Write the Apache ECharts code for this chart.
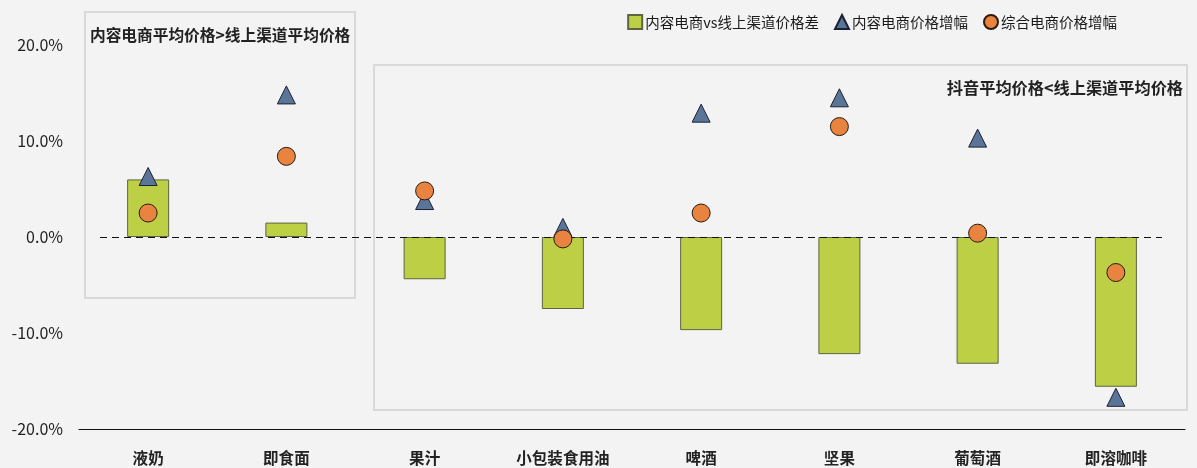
<!DOCTYPE html>
<html><head><meta charset="utf-8">
<script src="https://cdn.jsdelivr.net/npm/echarts@6/dist/echarts.min.js"></script>
<style>html,body{margin:0;padding:0;background:#f3f3f3}#c{width:1197px;height:468px}</style>
</head><body><div id="c"></div>
<script>
const categories = ['液奶','即食面','果汁','小包装食用油','啤酒','坚果','葡萄酒','即溶咖啡'];
const priceGap = [6.0, 1.5, -4.4, -7.5, -9.7, -12.2, -13.2, -15.6];
const contentGrowth = [6.3, 14.8, 3.8, 1.0, 12.9, 14.5, 10.3, -16.7];
const overallGrowth = [2.5, 8.4, 4.8, -0.2, 2.5, 11.5, 0.4, -3.7];
const seriesNames = ['内容电商vs线上渠道价格差','内容电商价格增幅','综合电商价格增幅'];
const noteLeft = '内容电商平均价格>线上渠道平均价格';
const noteRight = '抖音平均价格<线上渠道平均价格';

const font = '"Noto Sans CJK SC", "Noto Sans", sans-serif';
const chart = echarts.init(document.getElementById('c'));
const option = {
  backgroundColor: '#f3f3f3',
  animation: false,
  textStyle: {fontFamily: font},
  grid: {left: 79, right: 12, top: 45, bottom: 39},
  legend: {
    top: 9, right: 75, itemWidth: 14, itemHeight: 14, itemGap: 15,
    textStyle: {fontSize: 14.5, color: '#1a1a1a', fontFamily: font, padding: [0, 0, 0, -2]},
    data: [
      {name: seriesNames[0], icon: 'rect'},
      {name: seriesNames[1], icon: 'triangle'},
      {name: seriesNames[2], icon: 'circle'}
    ]
  },
  xAxis: {
    type: 'category', data: categories,
    axisLine: {onZero: false, lineStyle: {color: '#111', width: 1.2}},
    axisTick: {show: false},
    axisLabel: {fontSize: 15.5, fontWeight: 'bold', color: '#222', margin: 21, fontFamily: font}
  },
  yAxis: {
    type: 'value', min: -20, max: 20, interval: 10,
    axisLine: {show: false}, axisTick: {show: false}, splitLine: {show: false},
    axisLabel: {fontSize: 16, color: '#222', margin: 16, fontFamily: font,
      formatter: v => v.toFixed(1) + '%'}
  },
  series: [
    {name: seriesNames[0], type: 'bar', data: priceGap, barWidth: 42, z: 2,
      itemStyle: {color: '#bccf45', borderColor: '#5f6440', borderWidth: 1}},
    {name: seriesNames[1], type: 'scatter', data: contentGrowth, symbol: 'triangle', symbolSize: [18, 18], z: 4,
      itemStyle: {color: '#5b7599', borderColor: '#1a2233', borderWidth: 1, opacity: 1}},
    {name: seriesNames[2], type: 'scatter', data: overallGrowth, symbol: 'circle', symbolSize: 18, z: 5,
      itemStyle: {color: '#e8843f', borderColor: '#2a1a10', borderWidth: 1, opacity: 1}}
  ]
};
chart.setOption(option);
const y0 = Math.round(chart.convertToPixel({yAxisIndex: 0}, 0)) + 0.5;
chart.setOption({
  graphic: [
    {type: 'rect', shape: {x: 85, y: 12, width: 270, height: 286}, z: 0,
      style: {fill: 'none', stroke: '#d9d9d9', lineWidth: 2}},
    {type: 'rect', shape: {x: 374, y: 65, width: 813, height: 345}, z: 0,
      style: {fill: 'none', stroke: '#d9d9d9', lineWidth: 2}},
    {type: 'text', x: 90, y: 35, z: 10, style: {text: noteLeft, fill: '#222', font: 'bold 15.7px ' + font, textVerticalAlign: 'middle'}},
    {type: 'text', x: 1183, y: 88, z: 10, style: {text: noteRight, fill: '#222', font: 'bold 16.2px ' + font, textAlign: 'right', textVerticalAlign: 'middle'}},
    {type: 'line', shape: {x1: 100, y1: y0, x2: 1162, y2: y0}, z: 3,
      style: {stroke: '#111', lineWidth: 1, lineDash: [7, 5]}}
  ]
});
</script></body></html>
